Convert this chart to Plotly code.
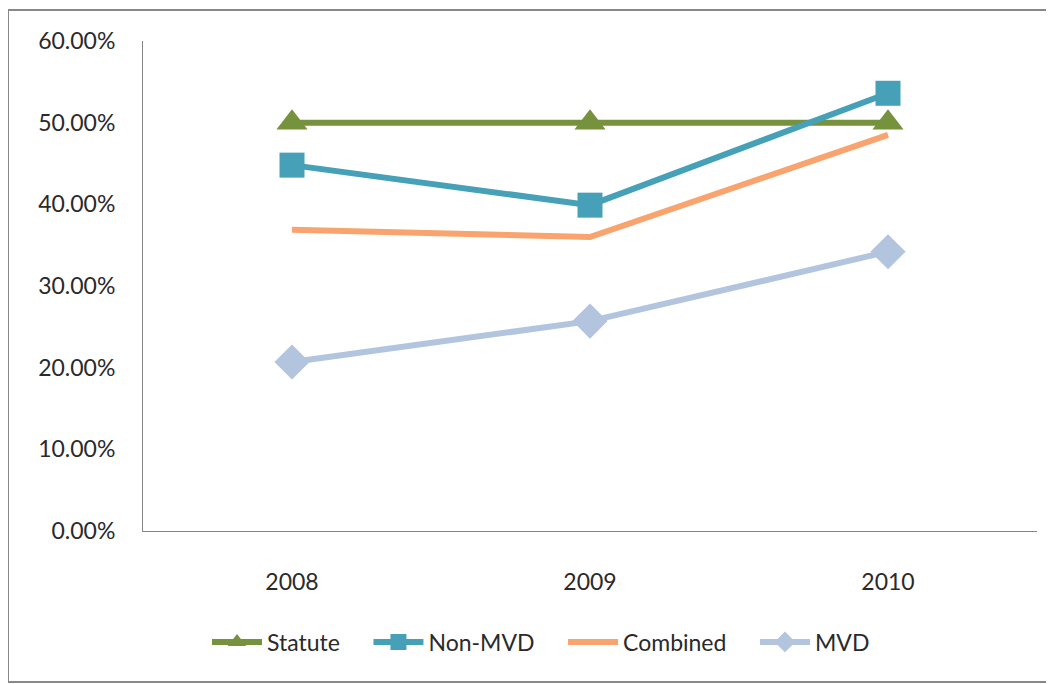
import plotly.graph_objects as go

years = ["2008", "2009", "2010"]
statute = [0.50, 0.50, 0.50]
non_mvd = [0.448, 0.399, 0.536]
combined = [0.369, 0.360, 0.485]
mvd = [0.207, 0.257, 0.342]
y_ticks = [0, 0.1, 0.2, 0.3, 0.4, 0.5, 0.6]

FONT = "Lato"
PAD = "\u00a0" * 4
fig = go.Figure()

fig.add_trace(go.Scatter(x=years, y=statute, name="Statute" + PAD, mode="lines+markers",
                         line=dict(color="#76923C", width=6),
                         marker=dict(symbol="triangle-up", size=27, color="#76923C")))
fig.add_trace(go.Scatter(x=years, y=non_mvd, name="Non-MVD" + PAD, mode="lines+markers",
                         line=dict(color="#45A0B8", width=6),
                         marker=dict(symbol="square", size=25, color="#45A0B8")))
fig.add_trace(go.Scatter(x=years, y=combined, name="Combined" + PAD, mode="lines",
                         line=dict(color="#F9A36E", width=6)))
fig.add_trace(go.Scatter(x=years, y=mvd, name="MVD", mode="lines+markers",
                         line=dict(color="#B3C4DF", width=6),
                         marker=dict(symbol="diamond", size=27, color="#B3C4DF")))

OFF = 8  # page body margin
W, H = 1054 - OFF, 684 - OFF
# plot area in page coordinates: x 143..1037, y 41..531
L = 143 - OFF
T = 41 - OFF
R = W - (1037 - OFF)
B = H - (531 - OFF)
pw, ph = W - L - R, H - T - B

def px_x(x):
    return (x - OFF - L) / pw

def px_y(y):
    return (H - B - (y - OFF)) / ph

fig.update_layout(
    width=W, height=H,
    margin=dict(l=L, r=R, t=T, b=B),
    paper_bgcolor="white", plot_bgcolor="white",
    font=dict(family=FONT, size=23, color="#2a2a2a"),
    showlegend=True,
    legend=dict(orientation="h", x=px_x(541), xanchor="center", y=px_y(642), yanchor="middle",
                font=dict(family=FONT, size=23, color="#2a2a2a"), itemwidth=50,
                traceorder="normal"),
    xaxis=dict(type="category", range=[-0.5, 2.5], showgrid=False, showline=True,
               linecolor="#868686", linewidth=1, ticks="", ticklabelstandoff=30,
               zeroline=False),
    yaxis=dict(range=[0, 0.6], tickvals=y_ticks, tickformat=".2%", showgrid=False,
               showline=True, linecolor="#868686", linewidth=1, ticks="",
               ticklabelstandoff=22, zeroline=False),
    shapes=[dict(type="rect", xref="paper", yref="paper",
                 x0=px_x(8), x1=px_x(1051), y0=px_y(682), y1=px_y(10),
                 line=dict(color="#888888", width=2), fillcolor="rgba(0,0,0,0)", layer="below")],
)

fig.write_html("out.html")
